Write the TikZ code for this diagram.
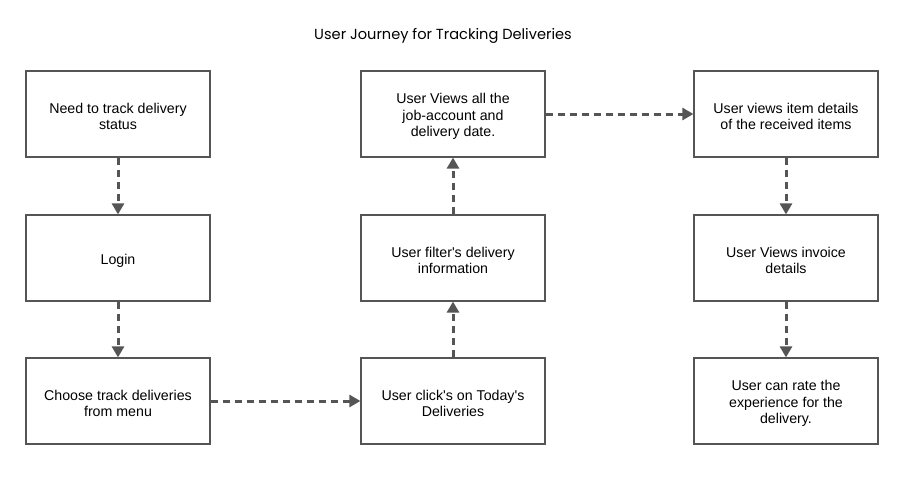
\documentclass[tikz,border=0pt]{standalone}
\usepackage{fontspec}
\setmainfont{Liberation Sans}
\newfontfamily\titlefont{Poppins}
\usetikzlibrary{arrows.meta}
\definecolor{edge}{HTML}{555555}
\tikzset{
  box/.style={draw=edge, line width=1.2pt, minimum width=184pt, minimum height=86pt, inner sep=0pt},
  boxtext/.style={align=center, font=\fontsize{14.2}{16.5}\selectfont, inner sep=0pt, yshift=-2.5pt},
  conn/.style={draw=edge, line width=3pt, dash pattern=on 7pt off 5pt, -{Triangle[width=12pt,length=11pt]}}
}
\begin{document}
\begin{tikzpicture}[x=1pt,y=-1pt]
\useasboundingbox (0,0) rectangle (900,493);
\fill[white] (0,0) rectangle (900,493);
\node[font=\titlefont\fontsize{14.6}{17}\selectfont] (title) at (443,35.5) {User Journey for Tracking Deliveries};
\node[box, label={[boxtext]center:{Need to track delivery\\status}}] (a1) at (118,114) {};
\node[box, label={[boxtext]center:{Login}}] (a2) at (118,258) {};
\node[box, label={[boxtext]center:{Choose track deliveries\\from menu}}] (a3) at (118,401) {};
\node[box, label={[boxtext]center:{User click\textquotesingle s on Today\textquotesingle s\\Deliveries}}] (b3) at (453,401) {};
\node[box, label={[boxtext]center:{User filter\textquotesingle s delivery\\information}}] (b2) at (453,258) {};
\node[box, label={[boxtext]center:{User Views all the\\job-account and\\delivery date.}}] (b1) at (453,114) {};
\node[box, label={[boxtext]center:{User views item details\\of the received items}}] (c1) at (786,114) {};
\node[box, label={[boxtext]center:{User Views invoice\\details}}] (c2) at (786,258) {};
\node[box, label={[boxtext]center:{User can rate the\\experience for the\\delivery.}}] (c3) at (786,401) {};
\draw[conn] (a1) -- (a2);
\draw[conn] (a2) -- (a3);
\draw[conn] (a3) -- (b3);
\draw[conn] (b3) -- (b2);
\draw[conn] (b2) -- (b1);
\draw[conn] (b1) -- (c1);
\draw[conn] (c1) -- (c2);
\draw[conn] (c2) -- (c3);
\end{tikzpicture}
\end{document}
